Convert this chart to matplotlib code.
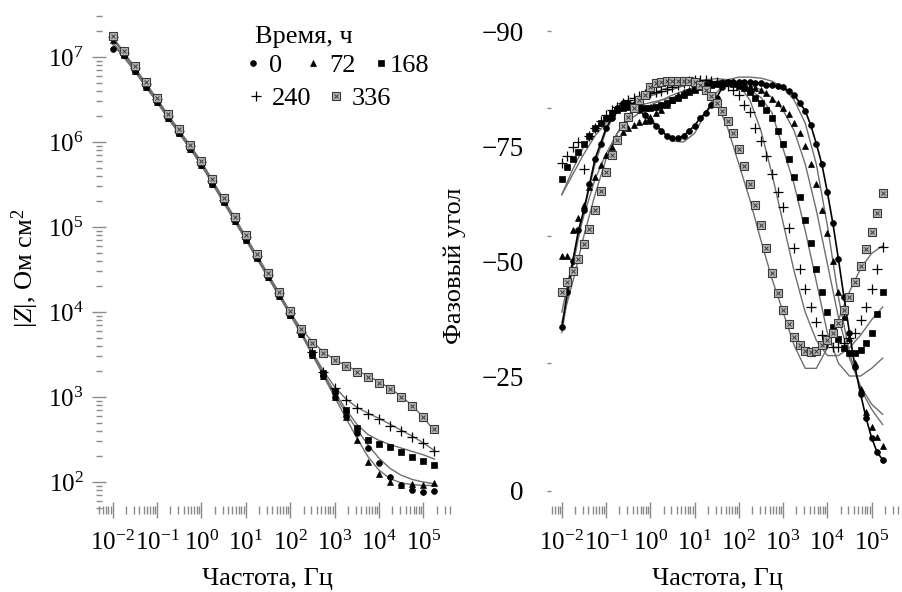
import numpy as np
import matplotlib
matplotlib.use('Agg')
import matplotlib.pyplot as plt
from matplotlib.lines import Line2D
from matplotlib.legend import Legend
from matplotlib.legend_handler import HandlerTuple
from matplotlib.ticker import LogLocator, LogFormatterMathtext, NullFormatter, FixedLocator, FixedFormatter

plt.rcParams['font.family'] = ['Liberation Serif', 'DejaVu Serif']
plt.rcParams['mathtext.fontset'] = 'custom'
plt.rcParams['mathtext.rm'] = 'Liberation Serif'
plt.rcParams['mathtext.it'] = 'Liberation Serif:italic'
plt.rcParams['mathtext.bf'] = 'Liberation Serif:bold'

# ---------------- data ----------------
series_labels = ['0', '72', '168', '240', '336']
legend_title = 'Время, ч'

# log10 of frequency (Hz) for phase points
log_f_phase = [-2.0, -1.875, -1.75, -1.625, -1.5, -1.375, -1.25, -1.125, -1.0, -0.875,
               -0.75, -0.625, -0.5, -0.375, -0.25, -0.125, 0.0, 0.125, 0.25, 0.375,
               0.5, 0.625, 0.75, 0.875, 1.0, 1.125, 1.25, 1.375, 1.5, 1.625,
               1.75, 1.875, 2.0, 2.125, 2.25, 2.375, 2.5, 2.625, 2.75, 2.875,
               3.0, 3.125, 3.25, 3.375, 3.5, 3.625, 3.75, 3.875, 4.0, 4.125,
               4.25, 4.375, 4.5, 4.625, 4.75, 4.875, 5.0, 5.125, 5.25]

# log10 of frequency (Hz) for |Z| points and for fitted curves
log_f_z = [-2.0, -1.75, -1.5, -1.25, -1.0, -0.75, -0.5, -0.25, 0.0, 0.25,
           0.5, 0.75, 1.0, 1.25, 1.5, 1.75, 2.0, 2.25, 2.5, 2.75,
           3.0, 3.25, 3.5, 3.75, 4.0, 4.25, 4.5, 4.75, 5.0, 5.25]

# phase angle, degrees (measured)
phase_0 = [-32, -39, -45, -51, -55, -60, -65, -68, -71, -73, -75, -76, -76, -75.5, -74.5,
           -73.5, -72.5, -71.5, -70.5, -69.5, -69, -69, -69.5, -70.5, -71.5, -73, -74, -75.5,
           -77, -79, -80, -80, -80, -80, -80, -79.8, -79.8, -79.5, -79.5, -79.3, -79, -78.3,
           -77.5, -76, -74.4, -71.6, -68, -64, -58.5, -52.4, -45.4, -38, -31, -24.3, -19,
           -14.3, -10.4, -7.6, -6.1]
phase_72 = [-46, -46, -51, -53.5, -56, -59.5, -61.5, -63.8, -65.7, -67.3, -69, -70.3, -71,
            -71.7, -72.2, -72.5, -73.2, -74, -74.6, -75.5, -76.5, -77.5, -78, -78.5, -79,
            -79.5, -79.8, -80, -80, -80, -80, -80, -79.8, -79.5, -79.2, -78.9, -78.5, -77.8,
            -76.8, -76, -75, -73.8, -72, -70, -67.5, -64, -60, -55, -50.5, -45, -39, -34,
            -30, -25, -20, -15.5, -12.5, -10.5, -8.8]
phase_168 = [-61, -63.5, -65, -66.3, -68, -69.5, -71, -72, -73, -74, -74.6, -75, -75.2,
             -75.3, -75.2, -75, -75, -75.2, -75.5, -76, -76.5, -77, -77.5, -78, -78.5, -79,
             -79.3, -79.5, -79.7, -79.8, -79.8, -79.6, -79.3, -78.8, -78, -77, -76, -74.6,
             -73, -70.5, -68, -65, -61.5, -57.5, -53, -48.5, -43.5, -39, -35, -32, -29.7,
             -28, -27, -27, -27.6, -29, -31, -34.6, -39]
phase_240 = [-64.2, -65.6, -67.3, -68.3, -63, -69.5, -71, -72.5, -73.5, -74.5, -75.2, -76,
             -76.5, -77, -77.3, -77.6, -77.8, -78, -78.3, -78.6, -79, -79.4, -79.8, -80.2,
             -80.4, -80.5, -80.5, -80.3, -80, -79.6, -79.2, -78.5, -77.5, -75.5, -74.2, -71,
             -68.5, -65.5, -62, -58.5, -55.5, -51.5, -47.5, -43.5, -39.5, -36, -33, -30.5,
             -29, -28.2, -28.2, -29, -30, -31, -33.5, -36, -39.5, -43.4, -47.7]
phase_336 = [-39, -41, -43, -45.5, -48.3, -51.3, -55, -58.7, -62.4, -65.8, -68.7, -71.4,
             -73.2, -75, -76.5, -77.5, -79, -79.8, -80, -80.2, -80.3, -80.3, -80.3, -80.2,
             -80, -79.5, -78.5, -77.3, -76, -74.4, -72.4, -70, -67, -63.6, -60, -56, -52,
             -47.5, -42.7, -38.7, -35.4, -32.7, -30.1, -28.6, -27.4, -27.2, -27.4, -28.6,
             -29.5, -30.9, -32.9, -35.4, -38, -40.9, -44, -47.4, -50.7, -54.4, -58.3]

# phase angle, degrees (fitted curves)
phase_fit_0 = [-31, -44, -55, -64, -70.5, -74.5, -76, -75, -73, -70.5, -68.5, -68.3, -70, -74,
               -78, -80.5, -81, -81, -80.8, -80.2, -79, -76.5, -72, -64, -52, -38, -27, -20,
               -16, -13]
phase_fit_72 = [-35, -45.5, -54, -61, -66, -70, -72.5, -74, -75.5, -76.5, -77.5, -78.3, -79,
                -79.5, -80, -80.2, -80, -79.5, -78.5, -77, -74.5, -70.5, -64, -55, -44.5, -34,
                -26, -20.5, -17, -15]
phase_fit_168 = [-58, -63, -67.5, -70.5, -72.5, -74, -75, -75.5, -76, -76.5, -77, -77.8, -78.5,
                 -79, -79.3, -79.5, -79.3, -78.5, -77, -74, -67, -60, -51, -41, -31, -25,
                 -22.5, -22.5, -24, -26]
phase_fit_240 = [-58, -62, -66, -69.5, -72, -74, -75.5, -76.5, -77.3, -78, -78.6, -79.3, -80,
                 -80.5, -80.7, -80.5, -79.5, -76.5, -70.5, -62, -52.5, -43, -35, -29.5, -26.5,
                 -26.5, -28, -30.5, -33.5, -36]
phase_fit_336 = [-33, -41, -50, -58, -65, -70, -73.5, -76, -77.5, -78.5, -79.2, -79.6, -79.5,
                 -78.5, -76, -71, -64, -57, -49, -41.5, -35, -28.5, -24, -24, -28, -33.5, -39,
                 -43.5, -46.5, -48]

# log10 |Z| (Ohm cm^2), measured
logz_0 = [7.09, 7.02, 6.84, 6.65, 6.47, 6.28, 6.10, 5.92, 5.73, 5.51, 5.29, 5.07, 4.85, 4.63,
          4.41, 4.19, 3.97, 3.74, 3.50, 3.25, 3.00, 2.78, 2.58, 2.40, 2.22, 2.06, 1.97, 1.91,
          1.88, 1.90]
logz_72 = [7.20, 7.02, 6.84, 6.65, 6.47, 6.28, 6.10, 5.92, 5.73, 5.51, 5.29, 5.07, 4.85, 4.63,
           4.41, 4.19, 3.97, 3.74, 3.50, 3.25, 3.00, 2.76, 2.50, 2.24, 2.10, 2.00, 1.97, 1.98,
           1.96, 1.99]
logz_168 = [7.23, 7.04, 6.86, 6.67, 6.49, 6.30, 6.12, 5.94, 5.75, 5.53, 5.31, 5.09, 4.87, 4.65,
            4.43, 4.21, 3.98, 3.76, 3.52, 3.28, 3.07, 2.85, 2.63, 2.50, 2.45, 2.41, 2.35, 2.30,
            2.25, 2.20]
logz_240 = [7.24, 7.05, 6.87, 6.68, 6.50, 6.31, 6.13, 5.95, 5.76, 5.54, 5.32, 5.10, 4.88, 4.66,
            4.44, 4.22, 3.99, 3.77, 3.53, 3.30, 3.11, 2.97, 2.87, 2.80, 2.74, 2.66, 2.60, 2.53,
            2.46, 2.36]
logz_336 = [7.25, 7.07, 6.89, 6.70, 6.52, 6.33, 6.15, 5.97, 5.78, 5.56, 5.34, 5.12, 4.90, 4.68,
            4.46, 4.24, 4.01, 3.80, 3.64, 3.52, 3.43, 3.36, 3.30, 3.24, 3.16, 3.09, 3.00, 2.89,
            2.76, 2.62]

# log10 |Z| fitted curves
logz_fit_0 = [7.15, 7.00, 6.83, 6.65, 6.47, 6.28, 6.10, 5.92, 5.73, 5.51, 5.29, 5.07, 4.85,
              4.63, 4.41, 4.19, 3.97, 3.74, 3.50, 3.26, 3.03, 2.82, 2.62, 2.44, 2.28, 2.16,
              2.08, 2.03, 2.00, 1.98]
logz_fit_72 = [7.18, 7.01, 6.84, 6.65, 6.47, 6.28, 6.10, 5.92, 5.73, 5.51, 5.29, 5.07, 4.85,
               4.63, 4.41, 4.19, 3.97, 3.74, 3.50, 3.25, 3.00, 2.76, 2.52, 2.30, 2.14, 2.04,
               1.99, 1.97, 1.96, 1.96]
logz_fit_168 = [7.22, 7.04, 6.86, 6.67, 6.49, 6.30, 6.12, 5.94, 5.75, 5.53, 5.31, 5.09, 4.87,
                4.65, 4.43, 4.21, 3.98, 3.76, 3.52, 3.28, 3.06, 2.86, 2.68, 2.56, 2.49, 2.44,
                2.40, 2.36, 2.32, 2.27]
logz_fit_240 = [7.23, 7.05, 6.87, 6.68, 6.50, 6.31, 6.13, 5.95, 5.76, 5.54, 5.32, 5.10, 4.88,
                4.66, 4.44, 4.22, 3.99, 3.77, 3.53, 3.31, 3.12, 2.98, 2.88, 2.81, 2.75, 2.68,
                2.61, 2.54, 2.46, 2.37]
logz_fit_336 = [7.24, 7.06, 6.88, 6.69, 6.51, 6.32, 6.14, 5.96, 5.77, 5.55, 5.33, 5.11, 4.89,
                4.67, 4.45, 4.23, 4.00, 3.80, 3.65, 3.53, 3.44, 3.37, 3.31, 3.25, 3.18, 3.10,
                3.01, 2.90, 2.76, 2.60]

x_ticks_exp = [-2, -1, 0, 1, 2, 3, 4, 5]
z_ticks_exp = [2, 3, 4, 5, 6, 7]
phase_tick_values = [0, -25, -50, -75, -90]
phase_label_text = ['\u221290', '\u221275', '\u221250', '\u221225', '0']

# ---------------- styles / layout ----------------
styles = {
    '0':   dict(marker='o', ms=4.2, mfc='black', mec='black', mew=0.5, ls='none'),
    '72':  dict(marker='^', ms=5.0, mfc='black', mec='black', mew=0.5, ls='none'),
    '168': dict(marker='s', ms=4.3, mfc='black', mec='black', mew=0.5, ls='none'),
    '240': dict(marker='+', ms=7.5, mfc='none', mec='black', mew=0.9, ls='none'),
    '336': dict(marker='s', ms=5.6, mfc='#b4b4b4', mec='#3a3a3a', mew=0.8, ls='none'),
}
hatch_style = dict(marker='x', ms=3.0, mec='#3a3a3a', mew=0.7, ls='none')
fit_color = '#6e6e6e'
tick_color = '#8a8a8a'

# legend entry anchors in axes fraction (left edge of handle, vertical centre) and text pad
legend_pos = {'0': (0.4136, 0.893, 0.3), '72': (0.5836, 0.893, 0.3),
              '168': (0.7762, 0.893, 0.02),
              '240': (0.4221, 0.827, 0.3), '336': (0.6487, 0.827, 0.3)}

f_phase = 10.0 ** np.array(log_f_phase)
f_z = 10.0 ** np.array(log_f_z)
phase_data = [phase_0, phase_72, phase_168, phase_240, phase_336]
phase_fits = [phase_fit_0, phase_fit_72, phase_fit_168, phase_fit_240, phase_fit_336]
z_data = [logz_0, logz_72, logz_168, logz_240, logz_336]
z_fits = [logz_fit_0, logz_fit_72, logz_fit_168, logz_fit_240, logz_fit_336]

fig = plt.figure(figsize=(9.03, 5.92), dpi=100)
ax1 = fig.add_axes([99 / 903, 82 / 592, 353 / 903, 498 / 592])
ax2 = fig.add_axes([549 / 903, 82 / 592, 353 / 903, 485 / 592])

# ---- left: |Z| ----
for lab, fit in zip(series_labels, z_fits):
    ax1.plot(f_z, 10.0 ** np.array(fit), color=fit_color, lw=1.0, zorder=2)
for lab, dat in zip(series_labels, z_data):
    zz = 10.0 ** np.array(dat)
    ax1.plot(f_z, zz, zorder=3, **styles[lab])
    if lab == '336':
        ax1.plot(f_z, zz, zorder=4, **hatch_style)

ax1.set_xscale('log')
ax1.set_yscale('log')
ax1.set_xlim(10 ** -2.305, 10 ** 5.645)
ax1.set_ylim(10 ** 1.671, 10 ** 7.529)

# ---- right: phase ----
for lab, fit in zip(series_labels, phase_fits):
    ax2.plot(f_z, fit, color=fit_color, lw=1.0, zorder=2)
ax2.plot(f_phase, phase_0, color='black', lw=1.2, zorder=3)
for lab, dat in zip(series_labels, phase_data):
    ax2.plot(f_phase, dat, zorder=3, **styles[lab])
    if lab == '336':
        ax2.plot(f_phase, dat, zorder=4, **hatch_style)

ax2.set_xscale('log')
ax2.set_xlim(10 ** -2.29, 10 ** 5.687)
ax2.set_ylim(3.72, -91.2)

# ---- axes decoration ----
for ax in (ax1, ax2):
    for s in ax.spines.values():
        s.set_visible(False)
    ax.xaxis.set_major_locator(FixedLocator([10.0 ** e for e in x_ticks_exp]))
    ax.xaxis.set_major_formatter(LogFormatterMathtext())
    ax.xaxis.set_minor_locator(LogLocator(base=10, subs=np.arange(2, 10), numticks=30))
    ax.xaxis.set_minor_formatter(NullFormatter())
    ax.tick_params(axis='x', which='major', direction='inout', length=11.5, width=1.0,
                   color=tick_color, labelsize=18, pad=9)
    ax.tick_params(axis='x', which='minor', direction='inout', length=5.5, width=1.0,
                   color=tick_color)

ax1.yaxis.set_major_locator(FixedLocator([10.0 ** e for e in z_ticks_exp]))
ax1.yaxis.set_major_formatter(LogFormatterMathtext())
ax1.yaxis.set_minor_locator(LogLocator(base=10, subs=np.arange(2, 10), numticks=30))
ax1.yaxis.set_minor_formatter(NullFormatter())
ax1.tick_params(axis='y', which='major', direction='inout', length=10, width=1.0,
                color=tick_color, labelsize=18, pad=6)
ax1.tick_params(axis='y', which='minor', direction='inout', length=4.3, width=1.0,
                color=tick_color)

ax2.yaxis.remove_overlapping_locs = False
ax2.yaxis.set_major_locator(FixedLocator(phase_tick_values))
ax2.yaxis.set_major_formatter(NullFormatter())
ax2.yaxis.set_minor_locator(FixedLocator(list(np.linspace(-90, 0, len(phase_label_text)))))
ax2.yaxis.set_minor_formatter(FixedFormatter(phase_label_text))
ax2.tick_params(axis='y', which='major', direction='inout', length=2.5, width=1.0,
                color=tick_color)
ax2.tick_params(axis='y', which='minor', length=0, labelsize=19.5, pad=18)

ax1.set_xlabel('Частота, Гц', fontsize=19)
ax1.xaxis.set_label_coords(0.476, -0.116)
ax1.xaxis.label.set_va('top')
ax2.set_xlabel('Частота, Гц', fontsize=19)
ax2.xaxis.set_label_coords(0.477, -0.119)
ax2.xaxis.label.set_va('top')

ax1.set_ylabel(r'$|Z|$, Ом см$^2$', fontsize=19)
ax1.yaxis.set_label_coords(-0.165, 0.486)
ax2.set_ylabel('Фазовый угол', fontsize=19)
ax2.yaxis.set_label_coords(-0.234, 0.503)

# ---- legend: title + one small legend per entry ----
def handle(lab):
    h = Line2D([], [], **styles[lab])
    if lab == '336':
        return (h, Line2D([], [], **hatch_style))
    return h

ax1.text(0.442, 0.938, legend_title, transform=ax1.transAxes, fontsize=19,
         ha='left', va='baseline')
for lab in series_labels:
    xa, ya, pad = legend_pos[lab]
    lg = Legend(ax1, [handle(lab)], [lab], frameon=False, fontsize=19, handlelength=0.6,
                handletextpad=pad, loc='center left', bbox_to_anchor=(xa, ya),
                borderaxespad=0.0, borderpad=0.0,
                handler_map={tuple: HandlerTuple(ndivide=1)})
    ax1.add_artist(lg)

fig.savefig('out.png', dpi=100)
